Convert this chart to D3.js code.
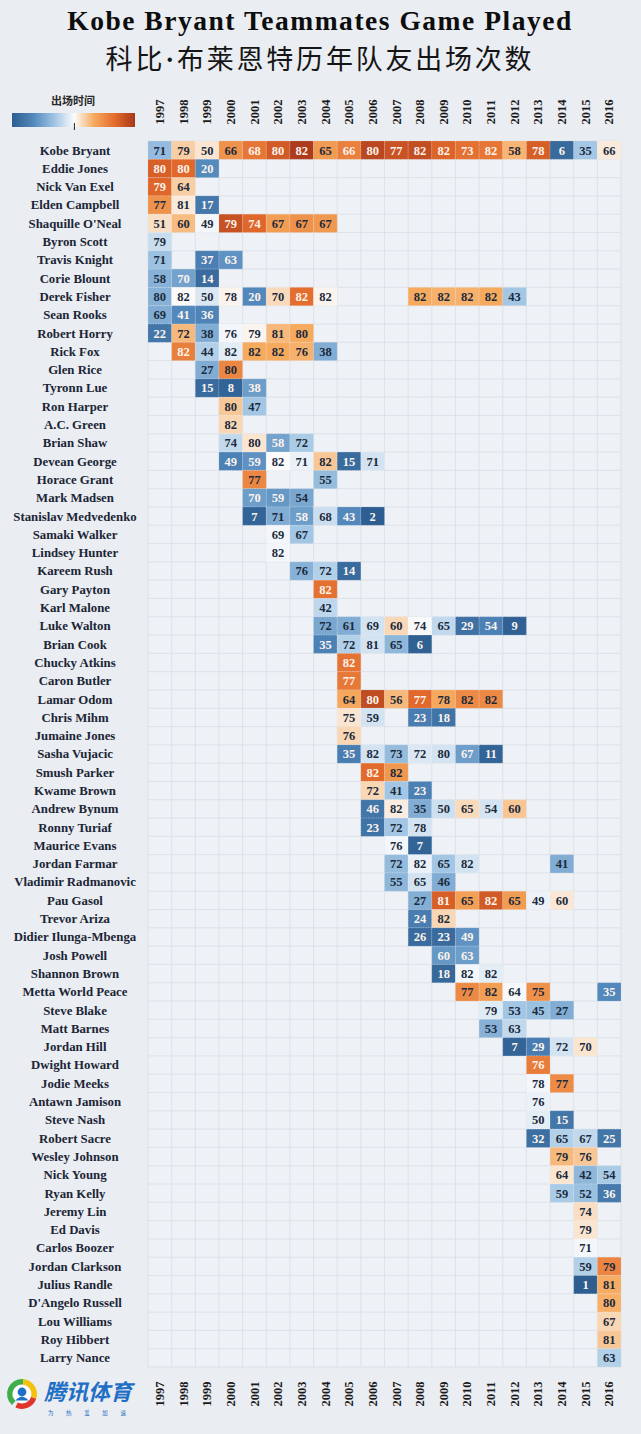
<!DOCTYPE html>
<html><head><meta charset="utf-8">
<script src="https://cdn.jsdelivr.net/npm/d3@7"></script>
<style>html,body{margin:0;padding:0;background:#eaedf1;} svg{display:block}</style>
</head><body>
<script>
// ---------------- DATA ----------------
const years = ["1997","1998","1999","2000","2001","2002","2003","2004","2005","2006","2007","2008","2009","2010","2011","2012","2013","2014","2015","2016"];

const players = ["Kobe Bryant","Eddie Jones","Nick Van Exel","Elden Campbell","Shaquille O'Neal","Byron Scott","Travis Knight","Corie Blount","Derek Fisher","Sean Rooks","Robert Horry","Rick Fox","Glen Rice","Tyronn Lue","Ron Harper","A.C. Green","Brian Shaw","Devean George","Horace Grant","Mark Madsen","Stanislav Medvedenko","Samaki Walker","Lindsey Hunter","Kareem Rush","Gary Payton","Karl Malone","Luke Walton","Brian Cook","Chucky Atkins","Caron Butler","Lamar Odom","Chris Mihm","Jumaine Jones","Sasha Vujacic","Smush Parker","Kwame Brown","Andrew Bynum","Ronny Turiaf","Maurice Evans","Jordan Farmar","Vladimir Radmanovic","Pau Gasol","Trevor Ariza","Didier Ilunga-Mbenga","Josh Powell","Shannon Brown","Metta World Peace","Steve Blake","Matt Barnes","Jordan Hill","Dwight Howard","Jodie Meeks","Antawn Jamison","Steve Nash","Robert Sacre","Wesley Johnson","Nick Young","Ryan Kelly","Jeremy Lin","Ed Davis","Carlos Boozer","Jordan Clarkson","Julius Randle","D'Angelo Russell","Lou Williams","Roy Hibbert","Larry Nance"];

// first season of each player's run (values below start at this season)
const startYear = [1997,1997,1997,1997,1997,1997,1997,1997,1997,1997,1997,1998,1999,1999,2000,2000,2000,2000,2001,2001,2001,2002,2002,2003,2004,2004,2004,2004,2005,2005,2005,2005,2005,2005,2006,2006,2006,2006,2007,2007,2007,2008,2008,2008,2009,2009,2010,2011,2011,2012,2013,2013,2013,2013,2013,2014,2014,2014,2015,2015,2015,2015,2015,2016,2016,2016,2016];

// games played per season (number shown in the cell)
const gamesPlayed = [
  [71,79,50,66,68,80,82,65,66,80,77,82,82,73,82,58,78,6,35,66],
  [80,80,20],
  [79,64],
  [77,81,17],
  [51,60,49,79,74,67,67,67],
  [79],
  [71,null,37,63],
  [58,70,14],
  [80,82,50,78,20,70,82,82,null,null,null,82,82,82,82,43],
  [69,41,36],
  [22,72,38,76,79,81,80],
  [82,44,82,82,82,76,38],
  [27,80],
  [15,8,38],
  [80,47],
  [82],
  [74,80,58,72],
  [49,59,82,71,82,15,71],
  [77,null,null,55],
  [70,59,54],
  [7,71,58,68,43,2],
  [69,67],
  [82],
  [76,72,14],
  [82],
  [42],
  [72,61,69,60,74,65,29,54,9],
  [35,72,81,65,6],
  [82],
  [77],
  [64,80,56,77,78,82,82],
  [75,59,null,23,18],
  [76],
  [35,82,73,72,80,67,11],
  [82,82],
  [72,41,23],
  [46,82,35,50,65,54,60],
  [23,72,78],
  [76,7],
  [72,82,65,82,null,null,null,41],
  [55,65,46],
  [27,81,65,82,65,49,60],
  [24,82],
  [26,23,49],
  [60,63],
  [18,82,82],
  [77,82,64,75,null,null,35],
  [79,53,45,27],
  [53,63],
  [7,29,72,70],
  [76],
  [78,77],
  [76],
  [50,15],
  [32,65,67,25],
  [79,76],
  [64,42,54],
  [59,52,36],
  [74],
  [79],
  [71],
  [59,79],
  [1,81],
  [80],
  [67],
  [81],
  [63]
];

// playing time (total minutes) — drives the colour
const minutesPlayed = [
  [1103,2056,1896,2524,2783,3063,3401,2447,2689,3277,3140,3192,2960,2835,2779,2232,3013,177,1207,1863],
  [3000,2910,620],
  [2937,2053],
  [2516,1864,380],
  [1941,2175,1705,3163,2924,2422,2535,2464],
  [1440],
  [1156,null,480,700],
  [1000,850,200],
  [1000,1760,1550,1803,600,1974,2853,1800,null,null,null,2300,2250,2250,2300,1200],
  [950,600,550],
  [350,2200,950,1700,1800,2200,2300],
  [2700,1300,1600,2300,2300,2250,950],
  [950,2620],
  [200,100,800],
  [2100,1200],
  [2000],
  [1400,1900,850,1250],
  [500,700,1750,1650,2100,200,1500],
  [2620,null,null,1100],
  [800,750,900],
  [100,950,800,1450,600,20],
  [1700,1200],
  [1700],
  [1000,1300,200],
  [2829],
  [1375],
  [900,950,1500,1988,1726,1400,270,500,60],
  [500,1300,1500,1050,50],
  [2800],
  [2750],
  [2324,3224,2200,2903,2317,2583,2600],
  [1900,1500,null,450,300],
  [2000],
  [450,1500,1100,1550,1500,800,100],
  [2886,2467],
  [2000,1200,500],
  [336,1850,950,1465,1976,1513,2112],
  [300,1200,1500],
  [1700,100],
  [1100,1650,1200,1500,null,null,null,950],
  [1050,1500,950],
  [976,3006,2405,3059,2431,1656,1884],
  [450,2000],
  [200,200,700],
  [750,800],
  [150,1700,1600],
  [2600,2411,1720,2535,null,null,600],
  [1580,1200,1150,950],
  [1000,1400],
  [100,450,1500,1900],
  [2722],
  [1700,2580],
  [1650],
  [1600,350],
  [250,1300,1400,350],
  [2200,2100],
  [1900,1050,1250],
  [1250,1150,400],
  [1950],
  [1900],
  [1700],
  [1300,2640],
  [14,2286],
  [2259],
  [2000],
  [2100],
  [1300]
];

const titleText = "Kobe Bryant Teammates Game Played";
const subtitleParts = ["科比", "·", "布莱恩特历年队友出场次数"];
const legendTitle = "出场时间";
const logoText = "腾讯体育";
const logoSlogan = "为 热 爱 加 速";

// ---------------- CHART ----------------
const W = 641, H = 1434;
const serif = "'Liberation Serif','DejaVu Serif',serif";
const cjk = "'Noto Sans CJK SC','Noto Sans CJK JP',sans-serif";
const ink = "#1b2536";

const svg = d3.select("body").append("svg").attr("width", W).attr("height", H);
svg.append("rect").attr("width", W).attr("height", H).attr("fill", "#eaedf1");

const x = d3.scaleBand().domain(years).range([148, 621]);
const y = d3.scaleBand().domain(players).range([141, 1367]);
const color = d3.scaleLinear()
  .domain([0, 600, 1200, 1750, 2300, 2900, 3450])
  .range(["#2d5d8f", "#5288bc", "#a2c6e4", "#fbfbfc", "#f6aa5e", "#e2692b", "#a8371a"])
  .clamp(true);

function fitText(sel, target) {
  const len = sel.node().getComputedTextLength();
  const fs = parseFloat(sel.attr("font-size"));
  sel.attr("font-size", fs * target / len);
}
function spaceText(sel, target) {
  const len = sel.node().getComputedTextLength();
  const n = sel.text().length;
  sel.attr("letter-spacing", (target - len) / (n - 1));
}

// title
const t1 = svg.append("text").attr("x", 320).attr("y", 30).attr("text-anchor", "middle")
  .attr("font-family", serif).attr("font-weight", "bold").attr("font-size", 27.5)
  .attr("fill", "#0d0d0d").text(titleText);
spaceText(t1, 504);
const t2 = svg.append("text").attr("x", 320).attr("y", 69).attr("text-anchor", "middle")
  .attr("font-family", cjk).attr("font-weight", 400).attr("font-size", 27)
  .attr("fill", "#151515");
t2.append("tspan").text(subtitleParts[0]);
t2.append("tspan").attr("font-family", serif).attr("font-weight", "bold").text(subtitleParts[1]);
t2.append("tspan").text(subtitleParts[2]);
spaceText(t2, 426);

// legend
const defs = svg.append("defs");
const grad = defs.append("linearGradient").attr("id", "lg");
const dmin = 0, dmax = 3450;
color.domain().forEach(v => {
  grad.append("stop").attr("offset", (v - dmin) / (dmax - dmin)).attr("stop-color", color(v));
});
svg.append("text").attr("x", 73).attr("y", 105).attr("text-anchor", "middle")
  .attr("font-family", cjk).attr("font-weight", "bold").attr("font-size", 11)
  .attr("fill", "#2a2a2a").text(legendTitle);
svg.append("rect").attr("x", 12).attr("y", 113).attr("width", 123).attr("height", 14).attr("fill", "url(#lg)");
const lx = d3.scaleLinear().domain([dmin, dmax]).range([12, 135]);
svg.append("line").attr("x1", lx(1750)).attr("x2", lx(1750)).attr("y1", 123).attr("y2", 130)
  .attr("stroke", "#222").attr("stroke-width", 1);

// grid background
const grid = svg.append("g");
grid.append("rect").attr("x", x.range()[0]).attr("y", y.range()[0])
  .attr("width", x.range()[1] - x.range()[0]).attr("height", y.range()[1] - y.range()[0])
  .attr("fill", "#eef1f5");
const vEdges = years.map(d => x(d)).concat([x.range()[1]]);
const hEdges = players.map(d => y(d)).concat([y.range()[1]]);
grid.selectAll("line.v").data(vEdges).join("line")
  .attr("x1", d => d).attr("x2", d => d).attr("y1", y.range()[0]).attr("y2", y.range()[1])
  .attr("stroke", "#d9dee6").attr("stroke-width", 0.8);
grid.selectAll("line.h").data(hEdges).join("line")
  .attr("y1", d => d).attr("y2", d => d).attr("x1", x.range()[0]).attr("x2", x.range()[1])
  .attr("stroke", "#d9dee6").attr("stroke-width", 0.8);

// cells
const cells = [];
players.forEach((p, i) => {
  const s = years.indexOf(String(startYear[i]));
  gamesPlayed[i].forEach((gv, j) => {
    if (gv == null) return;
    cells.push({ player: p, year: years[s + j], games: gv, minutes: minutesPlayed[i][j] });
  });
});
const cg = svg.append("g");
cg.selectAll("rect").data(cells).join("rect")
  .attr("x", d => x(d.year)).attr("y", d => y(d.player))
  .attr("width", x.bandwidth()).attr("height", y.bandwidth())
  .attr("fill", d => color(d.minutes))
  .attr("stroke", "#ffffff").attr("stroke-opacity", 0.45)
  .attr("stroke-width", 0.7).attr("stroke-dasharray", "1,1.5");
cg.selectAll("text").data(cells).join("text")
  .attr("x", d => x(d.year) + x.bandwidth() / 2)
  .attr("y", d => y(d.player) + y.bandwidth() / 2 + 4.4)
  .attr("text-anchor", "middle")
  .attr("font-family", serif).attr("font-weight", "bold").attr("font-size", 12.5)
  .attr("fill", d => (d.minutes < 880 || d.minutes > 2650) ? "#fdf3ec" : "#1b2a3c")
  .text(d => d.games);

// row labels
svg.append("g").selectAll("text").data(players).join("text")
  .attr("x", 75).attr("y", d => y(d) + y.bandwidth() / 2 + 4.4)
  .attr("text-anchor", "middle")
  .attr("font-family", serif).attr("font-weight", "bold").attr("font-size", 12.8)
  .attr("fill", ink).text(d => d);

// year labels top & bottom
[112, 1394].forEach(cy => {
  svg.append("g").selectAll("text").data(years).join("text")
    .attr("transform", d => `translate(${x(d) + x.bandwidth() / 2 + 4.2},${cy}) rotate(-90)`)
    .attr("text-anchor", "middle")
    .attr("font-family", serif).attr("font-weight", "bold").attr("font-size", 12.5)
    .attr("fill", "#1a1a1a").text(d => d);
});

// logo
const logo = svg.append("g").attr("transform", "translate(22,1394)");
const arc = d3.arc();
const segs = [
  { a0: -2.4, a1: 0.1, c: "#3fae49" },
  { a0: 0.1, a1: 1.9, c: "#f4c20d" },
  { a0: 1.9, a1: 3.6, c: "#e0342c" }
];
segs.forEach(s => {
  logo.append("path").attr("d", arc({ innerRadius: 9.5, outerRadius: 15, startAngle: s.a0, endAngle: s.a1 }))
    .attr("fill", s.c);
});
logo.append("circle").attr("r", 9).attr("fill", "#ffffff");
logo.append("circle").attr("cx", 0).attr("cy", -2).attr("r", 4.4).attr("fill", "#1e6fc8");
logo.append("path").attr("d", "M-6.5,6.5 Q0,-1 6.5,6.5 Z").attr("fill", "#1e6fc8");
const lt = svg.append("text").attr("x", 44).attr("y", 1400)
  .attr("font-family", cjk).attr("font-weight", "bold").attr("font-style", "italic")
  .attr("font-size", 22).attr("fill", "#1f6fc5").text(logoText);
fitText(lt, 88);
const sl = svg.append("text").attr("x", 48).attr("y", 1415)
  .attr("font-family", cjk).attr("font-size", 5.5).attr("fill", "#1f6fc5").text(logoSlogan);
spaceText(sl, 78);
</script>
</body></html>
